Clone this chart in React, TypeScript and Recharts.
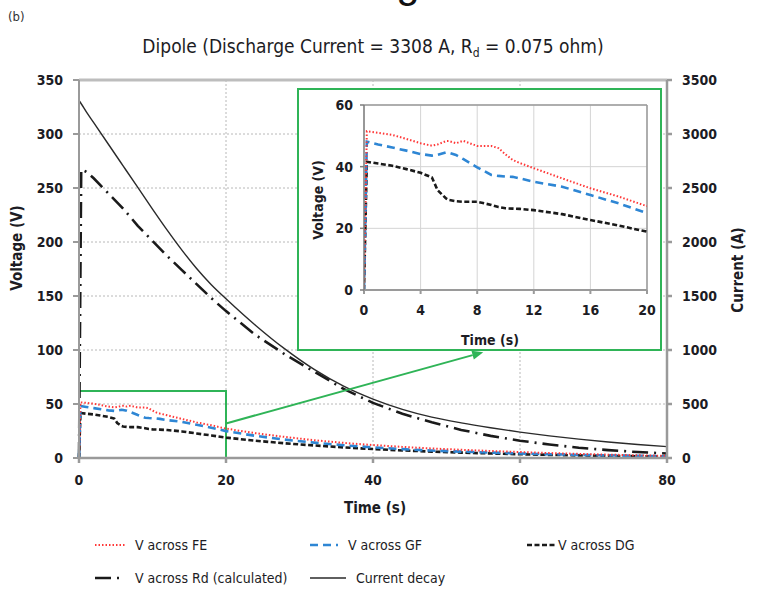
import React from 'react';
import { LineChart, Line, XAxis, YAxis, CartesianGrid, ReferenceArea, ReferenceLine } from 'recharts';

// measured probe voltages (V) against time (s)
const measuredTime = [0, 0.2, 1, 2, 3, 4, 4.8, 5.2, 5.8, 6, 6.5, 7, 8, 9, 9.5, 10, 10.5, 11, 12, 14, 16, 18, 20, 24, 28, 32, 36, 40, 44, 48, 52, 56, 60, 64, 68, 72, 76, 80];
const vAcrossFE = [0, 51.5, 51, 50.3, 49, 47.6, 46.8, 47.2, 48.3, 48.3, 47.6, 48.4, 46.7, 46.7, 46, 44, 42.2, 41.2, 39.5, 36.2, 33, 30.3, 27.2, 23, 19.5, 16.5, 14, 12, 10.3, 8.8, 7.6, 6.5, 5.5, 4.6, 3.8, 3.1, 2.5, 2];
const vAcrossGF = [0, 48.1, 47.2, 46.2, 45.2, 44.1, 43.6, 43.8, 44.6, 44.5, 43.8, 42.5, 39.8, 37.3, 37, 36.8, 36.7, 36.2, 35.1, 33.5, 30.8, 28.1, 24.9, 20.5, 17, 14.2, 11.8, 9.8, 8.2, 6.9, 5.9, 5, 4.2, 3.5, 2.9, 2.4, 2, 1.6];
const vAcrossDG = [0, 41.6, 41, 40.3, 39.2, 38, 36.5, 32.4, 29.7, 29.2, 28.8, 28.6, 28.6, 27.6, 26.9, 26.5, 26.4, 26.3, 25.9, 24.6, 22.7, 20.9, 18.9, 16, 13.6, 11.6, 9.8, 8.3, 7, 5.9, 5, 4.2, 3.5, 2.9, 2.4, 2, 1.6, 1.3];

// calculated resistor voltage (V) and current decay (A)
const modelTime = [0, 0.3, 1, 2, 4, 6, 8, 10, 12, 14, 16, 18, 20, 24, 28, 32, 36, 40, 44, 48, 52, 56, 60, 64, 68, 72, 76, 80];
const vAcrossRd = [0, 267, 265, 259, 245, 231, 215, 201, 187, 174, 161, 148, 136, 114, 96, 80, 64, 51, 41, 33, 26, 20.5, 16, 12.5, 9.5, 7.3, 5.5, 4.2];
const currentDecay = [3310, 3280, 3205, 3105, 2905, 2705, 2505, 2305, 2110, 1925, 1755, 1605, 1475, 1230, 1010, 820, 665, 545, 450, 378, 325, 280, 240, 205, 175, 148, 125, 105];

const timeTicks = [0, 20, 40, 60, 80];
const voltTicks = [0, 50, 100, 150, 200, 250, 300, 350];
const ampTicks = [0, 500, 1000, 1500, 2000, 2500, 3000, 3500];
const insetTimeTicks = [0, 4, 8, 12, 16, 20];
const insetVoltTicks = [0, 20, 40, 60];

const FONT = "'Liberation Sans Narrow', 'DejaVu Sans Condensed', sans-serif";
const INK = '#1c1c24';
const GREEN = '#2fb457';
const AXIS = '#9a9a9a';

const toRows = (t: number[], v: number[], tMax = Infinity) =>
  t.map((x, i) => ({ t: x, v: v[i] })).filter((r) => r.t <= tMax);

const styles = {
  fe: { stroke: '#ff3838', strokeWidth: 2, strokeDasharray: '1.5 2' },
  gf: { stroke: '#2e86d4', strokeWidth: 2.6, strokeDasharray: '8 5' },
  dg: { stroke: '#1a1a1a', strokeWidth: 2.6, strokeDasharray: '5 2.5' },
  rd: { stroke: '#1a1a1a', strokeWidth: 2.6, strokeDasharray: '16 6 2 6' },
  cur: { stroke: '#2a2a2a', strokeWidth: 1.4, strokeDasharray: undefined as string | undefined },
};

const legendItems = [
  { key: 'fe', label: 'V across FE', x: 95, y: 545, len: 30 },
  { key: 'gf', label: 'V across GF', x: 310, y: 545, len: 28 },
  { key: 'dg', label: 'V across DG', x: 527, y: 545, len: 30 },
  { key: 'rd', label: 'V across Rd (calculated)', x: 95, y: 578, len: 30 },
  { key: 'cur', label: 'Current decay', x: 310, y: 578, len: 36 },
];

const tickStyle = { fill: INK, fontSize: 14, fontWeight: 700, fontFamily: FONT };

// green zoom arrow drawn between two data points
const ZoomArrow = (props: any) => {
  const { x1, y1, x2, y2 } = props;
  const a = Math.atan2(y2 - y1, x2 - x1);
  const L = 11;
  const W = 4.5;
  const bx = x2 - L * Math.cos(a);
  const by = y2 - L * Math.sin(a);
  const pts = [
    `${x2},${y2}`,
    `${bx - W * Math.sin(a)},${by + W * Math.cos(a)}`,
    `${bx + W * Math.sin(a)},${by - W * Math.cos(a)}`,
  ].join(' ');
  return (
    <g>
      <line x1={x1} y1={y1} x2={bx} y2={by} stroke={GREEN} strokeWidth={2} />
      <polygon points={pts} fill={GREEN} />
    </g>
  );
};

const InsetChart = () => (
  <div
    style={{
      position: 'absolute',
      left: 297,
      top: 88,
      width: 361,
      height: 259,
      border: `2px solid ${GREEN}`,
      background: '#fff',
    }}
  >
    <LineChart width={361} height={259} margin={{ top: 15, right: 13, bottom: 0, left: 0 }}>
      <CartesianGrid stroke="#d4d4d4" strokeWidth={1} />
      <XAxis
        type="number"
        dataKey="t"
        domain={[0, 20]}
        ticks={insetTimeTicks}
        allowDataOverflow
        height={59}
        stroke={AXIS}
        strokeWidth={2}
        tickSize={4}
        tickMargin={11}
        tick={tickStyle}
      />
      <YAxis
        domain={[0, 60]}
        ticks={insetVoltTicks}
        width={65}
        stroke="#7d7d7d"
        strokeWidth={1.5}
        tickSize={4}
        tickMargin={7}
        tick={tickStyle}
      />
      <ReferenceLine y={60} stroke={AXIS} strokeWidth={1.5} />
      <ReferenceLine x={20} stroke={AXIS} strokeWidth={1.5} />
      <Line data={toRows(measuredTime, vAcrossDG, 20)} dataKey="v" type="linear" dot={false} isAnimationActive={false} {...styles.dg} />
      <Line data={toRows(measuredTime, vAcrossGF, 20)} dataKey="v" type="linear" dot={false} isAnimationActive={false} {...styles.gf} />
      <Line data={toRows(measuredTime, vAcrossFE, 20)} dataKey="v" type="linear" dot={false} isAnimationActive={false} {...styles.fe} />
    </LineChart>
    <svg width={361} height={259} style={{ position: 'absolute', left: 0, top: 0, pointerEvents: 'none' }}>
      <text x={191} y={255} textAnchor="middle" fill={INK} fontSize={14} fontWeight={700} fontFamily={FONT}>Time (s)</text>
      <text x={19} y={110} transform="rotate(-90 19 110)" textAnchor="middle" dominantBaseline="central" fill={INK} fontSize={14} fontWeight={700} fontFamily={FONT}>Voltage (V)</text>
    </svg>
  </div>
);

export default function App() {
  return (
    <div style={{ position: 'absolute', left: 0, top: 0, width: 768, height: 592, background: '#fff', overflow: 'hidden' }}>
      <LineChart width={768} height={592} margin={{ top: 80, right: 0, bottom: 76, left: 0 }}>
        <CartesianGrid yAxisId="v" strokeDasharray="2 2" stroke="#b8b8b8" />
        <XAxis
          type="number"
          dataKey="t"
          domain={[0, 80]}
          ticks={timeTicks}
          height={58}
          stroke={AXIS}
          strokeWidth={2.5}
          tickSize={5}
          tickMargin={12}
          tick={tickStyle}
        />
        <YAxis
          yAxisId="v"
          domain={[0, 350]}
          ticks={voltTicks}
          width={79}
          stroke={AXIS}
          strokeWidth={2}
          tickSize={6}
          tickMargin={10}
          tick={tickStyle}
        />
        <YAxis
          yAxisId="a"
          orientation="right"
          domain={[0, 3500]}
          ticks={ampTicks}
          width={101}
          stroke={AXIS}
          strokeWidth={2.5}
          tickSize={5}
          tickMargin={10}
          tick={tickStyle}
        />
        <ReferenceLine yAxisId="v" y={350} stroke="#bdbdbd" strokeWidth={3} />
        <Line yAxisId="a" data={toRows(modelTime, currentDecay)} dataKey="v" type="monotone" dot={false} isAnimationActive={false} {...styles.cur} />
        <Line yAxisId="v" data={toRows(modelTime, vAcrossRd)} dataKey="v" type="linear" dot={false} isAnimationActive={false} {...styles.rd} />
        <Line yAxisId="v" data={toRows(measuredTime, vAcrossDG)} dataKey="v" type="linear" dot={false} isAnimationActive={false} {...styles.dg} />
        <Line yAxisId="v" data={toRows(measuredTime, vAcrossGF)} dataKey="v" type="linear" dot={false} isAnimationActive={false} {...styles.gf} />
        <Line yAxisId="v" data={toRows(measuredTime, vAcrossFE)} dataKey="v" type="linear" dot={false} isAnimationActive={false} {...styles.fe} />
        <ReferenceArea yAxisId="v" x1={0} x2={20} y1={0} y2={62} fill="none" stroke={GREEN} strokeWidth={2} />
        <ReferenceLine
          yAxisId="v"
          segment={[{ x: 20, y: 32 }, { x: 55, y: 98 }]}
          shape={ZoomArrow}
        />
      </LineChart>

      <InsetChart />

      <svg width={768} height={592} style={{ position: 'absolute', left: 0, top: 0, pointerEvents: 'none' }}>
        <text x={408} y={-3} textAnchor="middle" fontSize={42} fontFamily="'Liberation Sans', sans-serif" fill="#111">g</text>
        <text x={8} y={21} fontSize={13} fontFamily={FONT} fill="#333">(b)</text>
        <text x={373} y={53} textAnchor="middle" fontSize={19} fontFamily={FONT} fill={INK}>
          Dipole (Discharge Current = 3308 A, R
          <tspan fontSize={12} dy={4}>d</tspan>
          <tspan dy={-4}> = 0.075 ohm)</tspan>
        </text>
        <text x={17} y={248} transform="rotate(-90 17 248)" textAnchor="middle" dominantBaseline="central" fontSize={15} fontWeight={700} fontFamily={FONT} fill={INK}>Voltage (V)</text>
        <text x={738} y={270} transform="rotate(-90 738 270)" textAnchor="middle" dominantBaseline="central" fontSize={15} fontWeight={700} fontFamily={FONT} fill={INK}>Current (A)</text>
        <text x={375} y={513} textAnchor="middle" fontSize={15} fontWeight={700} fontFamily={FONT} fill={INK}>Time (s)</text>
        {legendItems.map((it) => {
          const s = styles[it.key as keyof typeof styles];
          return (
            <g key={it.key}>
              <line x1={it.x} y1={it.y} x2={it.x + it.len} y2={it.y} stroke={s.stroke} strokeWidth={s.strokeWidth} strokeDasharray={s.strokeDasharray} />
              <text x={it.x + it.len + (it.key === 'dg' ? 1 : 10)} y={it.y} dominantBaseline="central" fontSize={14} fontFamily={FONT} fill={INK}>{it.label}</text>
            </g>
          );
        })}
      </svg>
    </div>
  );
}
